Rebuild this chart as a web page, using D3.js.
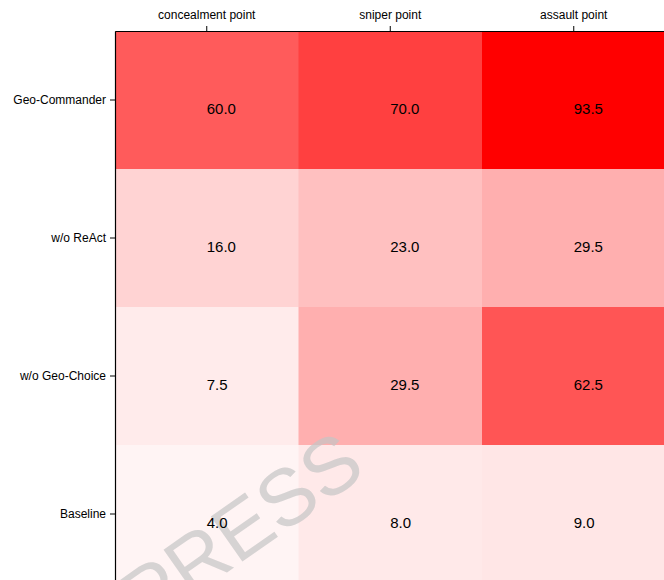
<!DOCTYPE html>
<html>
<head>
<meta charset="utf-8">
<script src="https://cdn.jsdelivr.net/npm/d3@7/dist/d3.min.js"></script>
<style>
  html, body { margin: 0; padding: 0; background: #fff; overflow: hidden; }
  svg { display: block; font-family: "Liberation Sans", Arial, sans-serif; }
</style>
</head>
<body>
<svg id="chart" width="664" height="580"></svg>
<script>
// Ablation results: success rate (%) per variant and target point type
const methods = ["Geo-Commander", "w/o ReAct", "w/o Geo-Choice", "Baseline"];
const pointTypes = ["concealment point", "sniper point", "assault point"];
const concealment = [60.0, 16.0, 7.5, 4.0];
const sniper = [70.0, 23.0, 29.5, 8.0];
const assault = [93.5, 29.5, 62.5, 9.0];
const watermarkText = "PRESS";

const seriesByType = [concealment, sniper, assault];
const cells = [];
methods.forEach((m, i) => {
  pointTypes.forEach((p, j) => {
    cells.push({ method: m, type: p, value: seriesByType[j][i] });
  });
});

const svg = d3.select("#chart");
const margin = { left: 115, top: 31 };
const cellW = 183.5, cellH = 138;
const plotW = cellW * pointTypes.length;
const plotH = cellH * methods.length;

const x = d3.scaleBand().domain(pointTypes).range([margin.left, margin.left + plotW]).padding(0);
const y = d3.scaleBand().domain(methods).range([margin.top, margin.top + plotH]).padding(0);
const color = d3.scaleLinear()
  .domain([0, d3.max(cells, d => d.value)])
  .range(["#ffffff", "#ff0000"]);

// heatmap cells
svg.append("g")
  .selectAll("rect")
  .data(cells)
  .join("rect")
  .attr("x", d => x(d.type))
  .attr("y", d => y(d.method))
  .attr("width", x.bandwidth() + 0.5)
  .attr("height", y.bandwidth() + 0.5)
  .attr("fill", d => color(d.value));

// watermark, between the cells and the value labels
svg.append("text")
  .attr("transform", "translate(146,629) rotate(-35)")
  .attr("font-size", 80)
  .attr("fill", "#c4c4c4")
  .attr("fill-opacity", 0.7)
  .text(watermarkText);

// value labels, starting at the cell centre
svg.append("g")
  .selectAll("text")
  .data(cells)
  .join("text")
  .attr("x", d => x(d.type) + x.bandwidth() / 2)
  .attr("y", d => y(d.method) + y.bandwidth() / 2 + 14)
  .attr("font-size", 15)
  .attr("fill", "#000")
  .text(d => d.value.toFixed(1));

// axes
const xAxis = svg.append("g")
  .attr("transform", `translate(0,${margin.top})`)
  .call(d3.axisTop(x).tickSizeInner(5).tickSizeOuter(0).tickPadding(7));
const yAxis = svg.append("g")
  .attr("transform", `translate(${margin.left},0)`)
  .call(d3.axisLeft(y).tickSizeInner(5).tickSizeOuter(0).tickPadding(4));

[xAxis, yAxis].forEach(a => {
  a.selectAll("text")
    .attr("font-size", 12)
    .attr("font-family", "Liberation Sans, Arial, sans-serif")
    .attr("fill", "#000");
  a.selectAll("line").attr("stroke", "#000");
  a.select(".domain").attr("stroke", "#000").attr("stroke-width", 1.2);
});
</script>
</body>
</html>
